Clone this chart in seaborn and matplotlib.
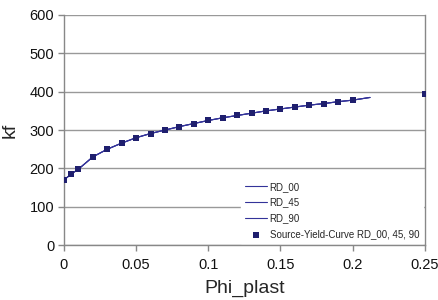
import numpy as np
import pandas as pd
import matplotlib
matplotlib.use("Agg")
import matplotlib.pyplot as plt
import seaborn as sb

# source yield curve points
phi_pts = [0, 0.005, 0.01, 0.02, 0.03, 0.04, 0.05, 0.06, 0.07, 0.08, 0.09, 0.1,
           0.11, 0.12, 0.13, 0.14, 0.15, 0.16, 0.17, 0.18, 0.19, 0.2, 0.25]
kf_pts = [170, 185, 198, 230, 250, 266, 280, 291, 300, 309, 317, 325,
          332, 338, 344, 350, 355, 360, 365, 369, 374, 378, 395]

# fitted curves (all three directions overlap)
phi_line = [0, 0, 0.005, 0.01, 0.02, 0.03, 0.04, 0.05, 0.06, 0.07, 0.08, 0.09, 0.1,
            0.11, 0.12, 0.13, 0.14, 0.15, 0.16, 0.17, 0.18, 0.19, 0.2, 0.212]
kf_line = [0, 170, 185, 198, 230, 250, 266, 280, 291, 300, 309, 317, 325,
           332, 338, 344, 350, 355, 360, 365, 369, 374, 378, 385]
series = ["RD_00", "RD_45", "RD_90"]

sb.set_style("white")
plt.rcParams['font.family'] = ['Liberation Sans', 'DejaVu Sans']

fig = plt.figure(figsize=(4.38, 3.0), dpi=100)
ax = fig.add_axes([0.146, 0.183, 0.824, 0.767])

for name in series:
    df = pd.DataFrame({"phi": phi_line, "kf": kf_line})
    sb.lineplot(data=df, x="phi", y="kf", ax=ax, sort=False, estimator=None,
                color="#333399", linewidth=0.8, label=name)

ax.scatter(phi_pts, kf_pts, marker="s", s=15, color="#1f1f6e", zorder=5,
           label="Source-Yield-Curve RD_00, 45, 90", linewidths=0)

ax.set_xlim(0, 0.25)
ax.set_ylim(0, 600)
ax.set_xticks([0, 0.05, 0.1, 0.15, 0.2, 0.25])
ax.set_xticklabels(["0", "0.05", "0.1", "0.15", "0.2", "0.25"])
ax.set_yticks(range(0, 601, 100))
ax.yaxis.grid(True, color="#999999", linewidth=1.0)
ax.set_axisbelow(True)

for side in ["left", "bottom", "right"]:
    ax.spines[side].set_visible(True)
    ax.spines[side].set_color("#888888")
    ax.spines[side].set_linewidth(1.0)
ax.spines["top"].set_visible(False)

ax.tick_params(axis="both", direction="out", length=4, width=1, color="#888888",
               labelsize=10.5, pad=3, labelcolor="#111111")
ax.tick_params(axis="x", pad=5)
ax.tick_params(axis="y", left=True)
ax.tick_params(axis="x", bottom=True)

ax.set_xlabel("Phi_plast", fontsize=14, labelpad=6)
ax.set_ylabel("kf", fontsize=14, labelpad=8)

leg = ax.legend(loc="lower right", fontsize=7, frameon=True, framealpha=1,
                edgecolor="white", facecolor="white", handlelength=2.2,
                borderaxespad=0.2, labelspacing=0.6, handletextpad=0.3,
                borderpad=0.4, fancybox=False)

fig.savefig("out.png", dpi=100)
